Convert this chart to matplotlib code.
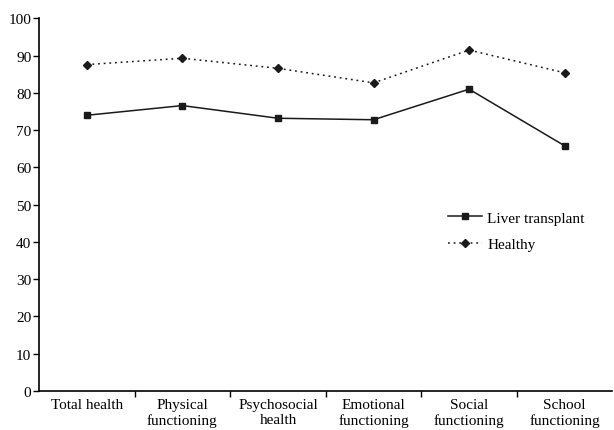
import matplotlib
matplotlib.use("Agg")
import matplotlib.pyplot as plt
from matplotlib.ticker import FixedLocator, NullFormatter

categories = ["Total health", "Physical\nfunctioning", "Psychosocial\nhealth",
              "Emotional\nfunctioning", "Social\nfunctioning", "School\nfunctioning"]
liver = [74.0, 76.6, 73.2, 72.8, 81.0, 65.8]
healthy = [87.6, 89.3, 86.6, 82.7, 91.5, 85.4]
yticks = [0, 10, 20, 30, 40, 50, 60, 70, 80, 90, 100]

plt.rcParams['font.family'] = ['Liberation Serif', 'DejaVu Serif']
plt.rcParams['font.size'] = 11

fig = plt.figure(figsize=(6.14, 4.31), dpi=100)
ax = fig.add_axes([0.0635, 0.0905, 0.934, 0.8645])

x = list(range(len(categories)))
ax.plot(x, liver, color='#1a1a1a', lw=1.1, marker='s', ms=4.8, label='Liver transplant')
ax.plot(x, healthy, color='#1a1a1a', lw=1.1, ls=(0, (1.2, 2.5)), marker='D', ms=3.6,
        label='Healthy')

ax.set_xlim(-0.5, 5.5)
ax.set_ylim(0, 100)
ax.set_yticks(yticks)
ax.set_xticks(x)
ax.set_xticklabels(categories, linespacing=1.2)
ax.tick_params(axis='x', which='major', length=0, pad=5)
ax.xaxis.set_minor_locator(FixedLocator([i + 0.5 for i in range(len(categories) - 1)]))
ax.xaxis.set_minor_formatter(NullFormatter())
ax.tick_params(axis='x', which='minor', length=4, width=1, direction='out')
ax.tick_params(axis='y', length=4, width=1, direction='out', pad=1.5)
for s in ['top', 'right']:
    ax.spines[s].set_visible(False)
for s in ['left', 'bottom']:
    ax.spines[s].set_linewidth(1.2)

ax.legend(loc='upper left', bbox_to_anchor=(0.69, 0.52), frameon=False,
          handlelength=2.2, handletextpad=0.35, labelspacing=0.85, fontsize=11)

fig.savefig("out.png", dpi=100)
